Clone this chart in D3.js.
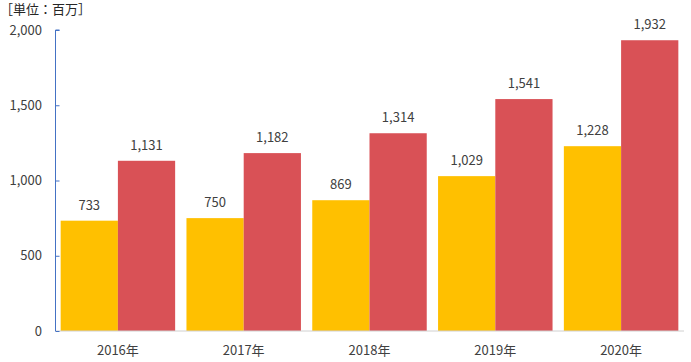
<!DOCTYPE html>
<html>
<head>
<meta charset="utf-8">
<script src="https://cdn.jsdelivr.net/npm/d3@7"></script>
<style>
  body { margin: 0; background: #fff; }
  text { font-family: "Noto Sans CJK JP", "Noto Sans", sans-serif; fill: #404040; }
</style>
</head>
<body>
<div id="chart"></div>
<script>
const width = 691;
const height = 362;

const years = ["2016年", "2017年", "2018年", "2019年", "2020年"];
const seriesA = [733, 750, 869, 1029, 1228];
const seriesB = [1131, 1182, 1314, 1541, 1932];
const yTicks = [0, 500, 1000, 1500, 2000];
const colors = ["#FFC000", "#D95156"];

const svg = d3.select("#chart")
    .append("svg")
    .attr("width", width)
    .attr("height", height);

const x0 = d3.scaleBand()
    .domain(years)
    .range([55, 684])
    .paddingInner(0.09)
    .paddingOuter(0.045);

const x1 = d3.scaleBand()
    .domain([0, 1])
    .range([0, x0.bandwidth()]);

const y = d3.scaleLinear()
    .domain([0, 2000])
    .range([331, 30]);

// unit label
svg.append("text")
    .attr("x", 0)
    .attr("y", 14)
    .attr("font-size", 13)
    .style("fill", "#262626")
    .text("［単位：百万］");

// bars
const rows = years.map((yr, i) => ({ year: yr, vals: [seriesA[i], seriesB[i]] }));

const groups = svg.append("g").selectAll("g")
    .data(rows)
    .enter().append("g")
    .attr("transform", d => `translate(${x0(d.year)},0)`);

groups.selectAll("rect")
    .data(d => d.vals.map((v, k) => ({ k, v })))
    .enter().append("rect")
    .attr("x", d => x1(d.k))
    .attr("y", d => y(d.v))
    .attr("width", x1.bandwidth())
    .attr("height", d => y(0) - y(d.v))
    .attr("fill", d => colors[d.k]);

groups.selectAll("text.val")
    .data(d => d.vals.map((v, k) => ({ k, v })))
    .enter().append("text")
    .attr("class", "val")
    .attr("x", d => x1(d.k) + x1.bandwidth() / 2)
    .attr("y", d => y(d.v) - 11)
    .attr("text-anchor", "middle")
    .attr("font-size", 13)
    .text(d => d3.format(",")(d.v));

// x baseline
svg.append("line")
    .attr("x1", 55).attr("x2", 684)
    .attr("y1", y(0)).attr("y2", y(0))
    .attr("stroke", "#d0d0d0")
    .attr("stroke-width", 1);

// y axis
const yAxis = svg.append("g")
    .attr("transform", "translate(55.5,0)")
    .call(d3.axisRight(y).tickValues(yTicks).tickSize(4).tickFormat(""));
yAxis.selectAll("path, line").attr("stroke", "#4472C4");
yAxis.select(".domain").attr("d", `M4,${y(2000)}H0V${y(0)}`);

svg.append("g").selectAll("text")
    .data(yTicks)
    .enter().append("text")
    .attr("x", 42)
    .attr("y", d => y(d) + 4.5)
    .attr("text-anchor", "end")
    .attr("font-size", 13)
    .text(d => d3.format(",")(d));

// x labels
svg.append("g").selectAll("text")
    .data(years)
    .enter().append("text")
    .attr("x", d => x0(d) + x0.bandwidth() / 2)
    .attr("y", 355)
    .attr("text-anchor", "middle")
    .attr("font-size", 13)
    .text(d => d);
</script>
</body>
</html>
